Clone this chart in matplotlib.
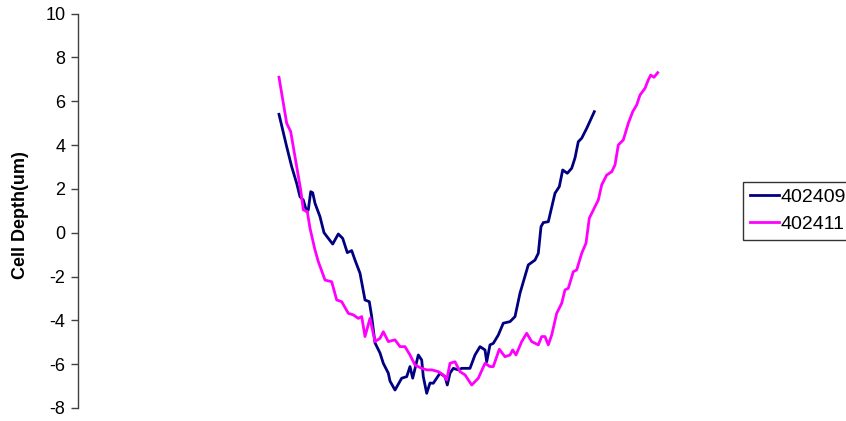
import matplotlib
matplotlib.use("Agg")
import matplotlib.pyplot as plt

plt.rcParams["font.family"] = ["Liberation Sans", "DejaVu Sans"]

# Scan position along the cell (arbitrary units) and measured depth (um)
pos_402409 = [201, 208.7, 213.7, 218.7, 222, 225.3, 228.7, 230.3, 232.7, 234.7,
              237, 242, 246, 250, 254.7, 260.3, 264.7, 269.3, 273.7, 277,
              282, 287, 291.3, 293.7, 297, 302, 305.3, 310.3, 312, 317,
              323.7, 328.7, 332, 334.7, 340.3, 343.7, 345.3, 348.7, 352, 355.3,
              362, 367, 369.3, 372, 375.3, 380.3, 383.7, 392, 397, 402,
              407, 408.7, 412, 415.3, 420.3, 425.3, 432, 437, 442, 450.3,
              457, 460.3, 463, 465.3, 470.3, 477, 481.3, 484.7, 489.3, 493.7,
              497, 500.3, 503.7, 508.7, 516.3]
depth_402409 = [5.40, 3.92, 3.01, 2.25, 1.64, 1.49, 0.96, 1.04, 1.87, 1.82,
                1.34, 0.73, 0.00, -0.24, -0.52, -0.06, -0.26, -0.91, -0.82, -1.25,
                -1.85, -3.07, -3.15, -3.83, -5.03, -5.49, -5.96, -6.41, -6.77, -7.18,
                -6.64, -6.57, -6.11, -6.64, -5.58, -5.81, -6.57, -7.33, -6.86, -6.87,
                -6.41, -6.57, -6.95, -6.41, -6.19, -6.26, -6.19, -6.19, -5.58, -5.20,
                -5.35, -5.89, -5.12, -5.05, -4.67, -4.13, -4.06, -3.83, -2.76, -1.47,
                -1.25, -0.94, 0.27, 0.46, 0.50, 1.80, 2.10, 2.86, 2.71, 2.94,
                3.41, 4.15, 4.31, 4.76, 5.52]

pos_402411 = [201, 208.7, 212.7, 218.7, 222.7, 225.3, 229.3, 232, 237, 240.3,
              247, 253.7, 258.7, 263.7, 270.3, 275.3, 280.3, 283.7, 287, 292,
              297, 302, 305.3, 310.3, 317, 322, 327, 332, 337, 343.7,
              348.7, 353.7, 360.3, 365.3, 368.7, 372, 377, 382, 387, 393.7,
              400.3, 407, 412, 415.3, 418.7, 421.3, 427, 432, 434.7, 438,
              443.7, 448.7, 453.7, 460.3, 463.7, 467, 470.3, 473.7, 478.7, 483.7,
              487, 490.3, 495.3, 498.7, 503.7, 508, 511.3, 517, 520.3, 523.7,
              528.7, 533.7, 537, 540.3, 545.3, 550.3, 554.7, 558.7, 562, 567,
              570.3, 572.7, 576, 579.7]
depth_402411 = [7.09, 4.99, 4.61, 3.01, 1.95, 1.04, 0.96, 0.20, -0.79, -1.32,
                -2.16, -2.24, -3.07, -3.15, -3.68, -3.75, -3.91, -3.83, -4.74, -3.91,
                -4.97, -4.82, -4.52, -4.97, -4.89, -5.20, -5.20, -5.58, -6.04, -6.19,
                -6.26, -6.26, -6.34, -6.49, -6.72, -5.96, -5.89, -6.34, -6.49, -6.95,
                -6.64, -5.96, -6.11, -6.11, -5.66, -5.32, -5.66, -5.58, -5.35, -5.58,
                -4.97, -4.59, -4.97, -5.12, -4.74, -4.74, -5.12, -4.67, -3.68, -3.22,
                -2.61, -2.54, -1.78, -1.70, -0.94, -0.48, 0.66, 1.19, 1.49, 2.18,
                2.63, 2.78, 3.09, 4.00, 4.23, 4.99, 5.52, 5.83, 6.28, 6.59,
                6.97, 7.19, 7.09, 7.30]

series_labels = ["402409", "402411"]
y_ticks = [-8, -6, -4, -2, 0, 2, 4, 6, 8, 10]

W, H = 846, 421
fig = plt.figure(figsize=(W / 100, H / 100), dpi=100)
ax = fig.add_axes([78 / W, 13 / H, 657 / W, 394.5 / H])

ax.plot(pos_402409, depth_402409, color="#000080", lw=2.0, label=series_labels[0])
ax.plot(pos_402411, depth_402411, color="#FF00FF", lw=2.0, label=series_labels[1])

ax.set_xlim(0, 657)
ax.set_ylim(-8, 10)
ax.set_yticks(y_ticks)
ax.set_yticklabels([str(t) for t in y_ticks])
ax.tick_params(axis="y", direction="out", length=5, width=1, color="#404040",
               labelsize=13, pad=4)
ax.set_xticks([])
for side in ("top", "right", "bottom"):
    ax.spines[side].set_visible(False)
ax.spines["left"].set_color("#404040")
ax.spines["left"].set_linewidth(1)

ax.set_ylabel("Cell Depth(um)", fontsize=13, fontweight="bold")
ax.yaxis.set_label_coords(-49 / 657, 0.49)

leg = fig.legend(loc="upper left", bbox_to_anchor=(743 / W, 1 - 181.5 / H),
                 bbox_transform=fig.transFigure, fontsize=14, frameon=True,
                 fancybox=False, shadow=False, handlelength=1.5,
                 handletextpad=0.1, borderpad=0.35, labelspacing=0.5,
                 borderaxespad=0)
leg.get_frame().set_edgecolor("black")
leg.get_frame().set_linewidth(1)

fig.savefig("out.png", dpi=100)
